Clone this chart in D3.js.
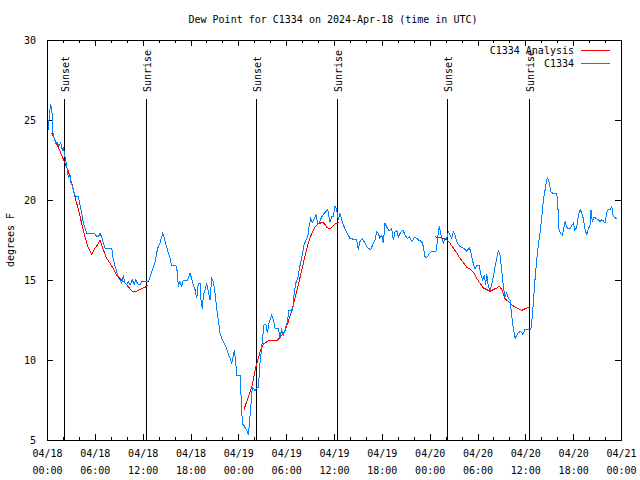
<!DOCTYPE html>
<html>
<head>
<meta charset="utf-8">
<script src="https://cdn.jsdelivr.net/npm/d3@7"></script>
<style>
  html, body { margin: 0; padding: 0; background: #fff; }
  svg { display: block; }
  text { font-family: "DejaVu Sans Mono", "Liberation Mono", monospace; font-size: 10px; fill: #000; }
</style>
</head>
<body>
<svg id="chart" width="640" height="480"></svg>
<script>
// ---- data (hours after 2024-04-18 00:00 UTC) ----
const title = "Dew Point for C1334 on 2024-Apr-18 (time in UTC)";
const yLabel = "degrees F";
const seriesNames = ["C1334 Analysis", "C1334"];

const stationHours = [0.16,0.34,0.46,0.59,0.66,0.75,0.88,1.09,1.29,1.51,1.72,1.92,2.04,2.26,2.38,2.55,2.67,2.85,3.01,3.22,3.42,3.60,3.93,4.14,4.35,4.55,4.77,4.98,5.39,6.02,6.23,6.44,6.65,6.86,7.06,7.28,8.12,8.32,8.53,8.74,8.94,9.16,9.37,9.57,9.78,10.00,10.20,10.41,10.70,10.95,11.13,11.38,11.67,11.88,12.51,12.71,12.92,13.13,13.33,13.55,13.76,13.96,14.17,14.39,14.51,14.68,14.93,15.22,15.43,15.64,16.18,16.35,16.47,16.68,16.90,17.10,17.65,17.94,18.15,18.35,18.57,18.78,18.98,19.19,19.32,19.48,19.61,19.82,20.03,20.23,20.45,20.66,20.86,21.07,21.29,21.49,21.70,21.92,22.12,22.33,22.54,22.74,22.96,23.17,23.37,23.50,23.67,23.80,24.21,24.42,24.50,24.71,24.93,25.13,25.26,25.38,25.55,25.75,26.09,26.22,26.51,26.72,26.93,27.06,27.22,27.47,27.64,27.89,28.19,28.39,28.60,29.01,29.23,29.44,29.64,29.86,30.14,30.36,30.82,30.98,31.20,31.45,31.65,31.82,32.07,32.24,32.49,32.70,32.90,33.08,33.28,33.53,33.74,33.96,34.16,34.46,34.75,35.21,35.50,35.71,35.91,36.13,36.34,36.54,36.75,37.09,37.38,37.67,38.01,38.42,38.85,39.05,39.26,39.55,39.89,40.23,40.61,40.86,41.14,41.36,41.56,41.77,41.99,42.19,42.40,42.61,42.90,43.24,43.44,43.65,43.87,44.07,44.37,44.69,44.91,45.20,45.45,45.75,46.16,46.58,47.00,47.20,47.42,47.63,48.04,48.26,48.80,49.01,49.13,49.21,49.39,49.51,49.71,49.92,50.14,50.34,50.55,50.76,50.97,51.18,51.47,51.81,52.22,52.65,52.97,53.15,53.40,53.69,53.90,54.23,54.40,54.65,54.85,55.03,55.16,55.36,55.57,55.78,55.98,56.20,56.41,56.61,56.82,57.04,57.24,57.45,57.66,57.87,58.08,58.29,58.49,58.71,58.92,59.12,59.42,59.67,59.96,60.38,60.68,60.80,61.00,61.21,61.43,61.63,61.84,62.05,62.26,62.47,62.68,62.80,63.01,63.22,63.51,63.94,64.06,64.22,64.44,64.64,64.98,65.19,65.39,65.60,65.82,66.02,66.23,66.44,66.65,66.86,67.07,67.27,67.49,67.70,67.90,68.11,68.24,68.40,68.62,68.87,69.16,69.37,69.58,69.79,70.00,70.21,70.42,70.62,70.84,71.04,71.38,71.54];
const stationValues = [24.4,25.6,25.9,25.75,25.2,24.2,23.9,23.55,23.6,23.4,23.6,23.1,23.3,22.7,22.4,21.9,21.4,21.7,21.1,20.8,20.4,20.2,20.2,19.7,19.2,18.6,18.25,17.9,17.9,17.9,17.7,17.7,17.9,17.7,17.3,17.0,17.0,16.25,15.9,15.5,15.1,15.0,14.8,15.3,14.8,14.7,14.9,14.7,15.0,14.75,15.0,14.75,14.7,14.9,14.9,14.9,15.2,15.5,15.8,16.1,16.7,17.1,17.3,17.7,17.9,17.7,17.2,16.7,16.35,15.9,15.9,15.5,14.6,14.9,14.6,15.0,15.0,15.4,15.1,14.7,14.4,13.85,14.8,14.8,13.75,13.2,14.0,14.4,14.8,14.3,13.75,15.1,14.9,14.2,13.2,12.5,11.7,11.35,11.15,10.95,10.7,10.4,10.1,9.8,10.3,10.6,9.9,9.05,9.05,7.0,6.0,5.9,5.7,5.5,5.3,6.0,7.0,8.3,8.1,8.2,8.3,9.8,10.8,11.45,12.2,12.2,11.7,12.4,12.8,12.5,12.0,12.0,11.45,11.9,11.55,11.9,12.4,13.1,13.1,14.05,14.8,15.1,15.7,16.1,16.7,17.2,17.5,17.7,18.4,18.85,18.6,18.85,19.1,18.5,18.6,18.95,19.15,19.4,18.6,18.95,18.95,19.6,19.4,18.75,19.15,18.55,18.2,17.9,17.6,17.55,17.5,16.9,17.4,17.6,17.3,17.0,16.9,17.2,17.5,18.0,17.9,17.6,17.8,17.3,18.55,18.3,18.1,18.2,17.5,18.0,18.1,17.7,18.0,18.1,17.8,17.6,17.7,17.4,17.7,17.5,17.4,17.1,16.45,16.4,16.7,16.8,16.8,17.6,18.2,18.3,17.9,17.6,17.3,17.6,17.6,18.0,17.8,17.6,18.0,17.8,17.3,17.1,17.0,16.8,17.0,16.8,16.15,15.7,15.9,15.9,15.4,15.0,15.3,14.7,15.4,14.6,14.4,14.7,15.2,15.8,16.35,16.85,16.6,15.6,14.6,13.95,14.2,13.85,13.75,12.8,12.0,11.35,11.55,11.7,11.8,11.6,11.9,11.9,11.9,12.3,13.55,15.0,16.25,17.2,17.9,18.85,20.0,20.6,21.25,21.4,21.05,20.5,20.4,20.4,19.8,18.2,17.9,17.8,18.65,18.3,18.2,18.2,18.4,18.55,18.1,18.3,19.05,19.4,19.2,18.85,18.2,17.8,18.2,18.4,19.4,18.65,18.95,18.85,18.75,18.65,18.75,18.7,18.55,19.2,19.4,19.4,19.6,18.95,18.85,18.85];

// analysis values; null marks the gaps between nights
const analysisHours = [0.59,1.00,1.42,1.84,2.26,2.67,3.10,3.51,3.93,4.35,4.77,5.18,5.61,6.02,6.36,6.65,7.06,7.49,7.90,8.32,8.74,9.16,9.57,10.00,10.41,10.70,11.25,11.67,12.08,12.51,12.71,
  18.0,
  24.71,25.72,26.22,26.72,27.13,27.76,28.81,29.23,29.86,30.27,30.70,31.11,31.52,31.95,32.36,32.78,33.20,33.62,34.03,34.46,34.75,35.09,35.50,35.71,36.13,36.42,36.67,
  42.0,
  48.67,49.71,50.14,50.55,50.97,51.39,51.81,52.22,52.65,53.06,53.47,53.90,54.32,54.73,55.16,55.57,55.98,56.41,56.74,57.04,57.45,57.87,58.29,58.71,59.12,59.55,59.96,60.38,60.59];
const analysisValues = [24.2,23.75,23.3,22.8,22.3,21.8,21.05,20.2,19.4,18.55,17.7,17.0,16.6,17.0,17.2,17.5,16.9,16.35,16.05,15.7,15.3,15.1,14.9,14.7,14.45,14.3,14.3,14.4,14.5,14.6,14.7,
  null,
  6.9,8.4,9.6,10.5,11.0,11.2,11.2,11.4,11.8,12.4,13.1,13.85,14.7,15.6,16.5,17.3,17.9,18.3,18.5,18.6,18.55,18.3,18.2,18.3,18.5,18.55,18.6,
  null,
  17.7,17.6,17.5,17.3,17.0,16.7,16.35,16.1,15.8,15.7,15.5,15.1,14.8,14.5,14.4,14.3,14.4,14.5,14.6,14.4,13.85,13.65,13.45,13.3,13.2,13.1,13.2,13.3,13.35];

const sunEventHours = [2.17, 12.46, 26.26, 36.42, 50.22, 60.50];
const sunEventLabels = ["Sunset", "Sunrise", "Sunset", "Sunrise", "Sunset", "Sunrise"];

const yTicks = [5, 10, 15, 20, 25, 30];
const xMajorStepHours = 6;
const xMinorStepHours = 2;

// ---- layout ----
const svg = d3.select("#chart");
const plot = {left: 47, right: 621, top: 40, bottom: 440};
const t0 = Date.UTC(2024, 3, 18, 0, 0);
const hourToDate = h => new Date(t0 + h * 3600000);

const x = d3.scaleUtc().domain([hourToDate(0), hourToDate(72)]).range([plot.left, plot.right]);
const y = d3.scaleLinear().domain([5, 30]).range([plot.bottom, plot.top]);

const stationData = stationHours.map((h, i) => ({t: hourToDate(h), v: stationValues[i]}));
const analysisData = analysisHours.map((h, i) => ({t: hourToDate(h), v: analysisValues[i]}));

const majorTicks = d3.range(0, 72 + 0.001, xMajorStepHours).map(hourToDate);
const minorTicks = d3.range(0, 72 + 0.001, xMinorStepHours).filter(h => h % xMajorStepHours !== 0).map(hourToDate);

const g = svg.append("g");

// title
g.append("text").attr("x", 333).attr("y", 23).attr("text-anchor", "middle").text(title);

// y label
g.append("text").attr("transform", "translate(14,240) rotate(-90)")
  .attr("text-anchor", "middle").text(yLabel);

function styleAxis(sel) {
  sel.select(".domain").remove();
  sel.selectAll(".tick line").attr("stroke", "#000").attr("shape-rendering", "crispEdges");
  sel.selectAll("text").style("font-family", '"DejaVu Sans Mono", "Liberation Mono", monospace').style("font-size", "10px").attr("fill", "#000");
}

// bottom major ticks with labels
const fmtDate = d3.utcFormat("%m/%d"), fmtTime = d3.utcFormat("%H:%M");
const xAxisBottom = g.append("g").attr("transform", `translate(0,${plot.bottom})`)
  .call(d3.axisBottom(x).tickValues(majorTicks).tickSizeInner(-6).tickSizeOuter(0).tickPadding(10).tickFormat(() => ""));
styleAxis(xAxisBottom);
xAxisBottom.selectAll(".tick text").each(function(d) {
  const t = d3.select(this);
  t.text(null).attr("y", 17).attr("dy", 0);
  t.append("tspan").attr("x", 0).attr("dy", "0em").text(fmtDate(d));
  t.append("tspan").attr("x", 0).attr("dy", "1.7em").text(fmtTime(d));
});
const xMinorBottom = g.append("g").attr("transform", `translate(0,${plot.bottom})`)
  .call(d3.axisBottom(x).tickValues(minorTicks).tickSizeInner(-3).tickSizeOuter(0).tickFormat(() => ""));
styleAxis(xMinorBottom);

// top mirror ticks
const xAxisTop = g.append("g").attr("transform", `translate(0,${plot.top})`)
  .call(d3.axisTop(x).tickValues(majorTicks).tickSizeInner(-6).tickSizeOuter(0).tickFormat(() => ""));
styleAxis(xAxisTop);
const xMinorTop = g.append("g").attr("transform", `translate(0,${plot.top})`)
  .call(d3.axisTop(x).tickValues(minorTicks).tickSizeInner(-3).tickSizeOuter(0).tickFormat(() => ""));
styleAxis(xMinorTop);

// y axes
const yAxisLeft = g.append("g").attr("transform", `translate(${plot.left},0)`)
  .call(d3.axisLeft(y).tickValues(yTicks).tickSizeInner(-6).tickSizeOuter(0).tickPadding(11).tickFormat(d3.format("d")));
styleAxis(yAxisLeft);
const yAxisRight = g.append("g").attr("transform", `translate(${plot.right},0)`)
  .call(d3.axisRight(y).tickValues(yTicks).tickSizeInner(-6).tickSizeOuter(0).tickFormat(() => ""));
styleAxis(yAxisRight);

// sun event lines and labels
const ev = g.append("g");
sunEventHours.forEach((h, i) => {
  const xx = Math.round(x(hourToDate(h))) + 0.5;
  ev.append("line").attr("x1", xx).attr("x2", xx).attr("y1", 99).attr("y2", plot.bottom)
    .attr("stroke", "#000").attr("stroke-width", 1).attr("shape-rendering", "crispEdges");
  ev.append("text").attr("transform", `translate(${xx + 4},92) rotate(-90)`)
    .attr("text-anchor", "start").text(sunEventLabels[i]);
});

// lines
const line = d3.line().defined(d => d.v != null).x(d => x(d.t)).y(d => y(d.v));
g.append("path").datum(analysisData).attr("d", line)
  .attr("fill", "none").attr("stroke", "#ff0000").attr("stroke-width", 1).attr("shape-rendering", "crispEdges");
g.append("path").datum(stationData).attr("d", line)
  .attr("fill", "none").attr("stroke", "#0080ff").attr("stroke-width", 1).attr("shape-rendering", "crispEdges");

// border
g.append("rect").attr("x", plot.left + 0.5).attr("y", plot.top + 0.5)
  .attr("width", plot.right - plot.left).attr("height", plot.bottom - plot.top)
  .attr("fill", "none").attr("stroke", "#000").attr("stroke-width", 1).attr("shape-rendering", "crispEdges");

// legend
const legendColors = ["#ff0000", "#0080ff"];
const lg = g.append("g");
seriesNames.forEach((name, i) => {
  const yy = 50 + i * 13;
  lg.append("text").attr("x", 574).attr("y", yy).attr("dy", "0.35em").attr("text-anchor", "end").text(name);
  lg.append("line").attr("x1", 581).attr("x2", 610).attr("y1", yy + 0.5).attr("y2", yy + 0.5)
    .attr("stroke", legendColors[i]).attr("stroke-width", 1).attr("shape-rendering", "crispEdges");
});
</script>
</body>
</html>
